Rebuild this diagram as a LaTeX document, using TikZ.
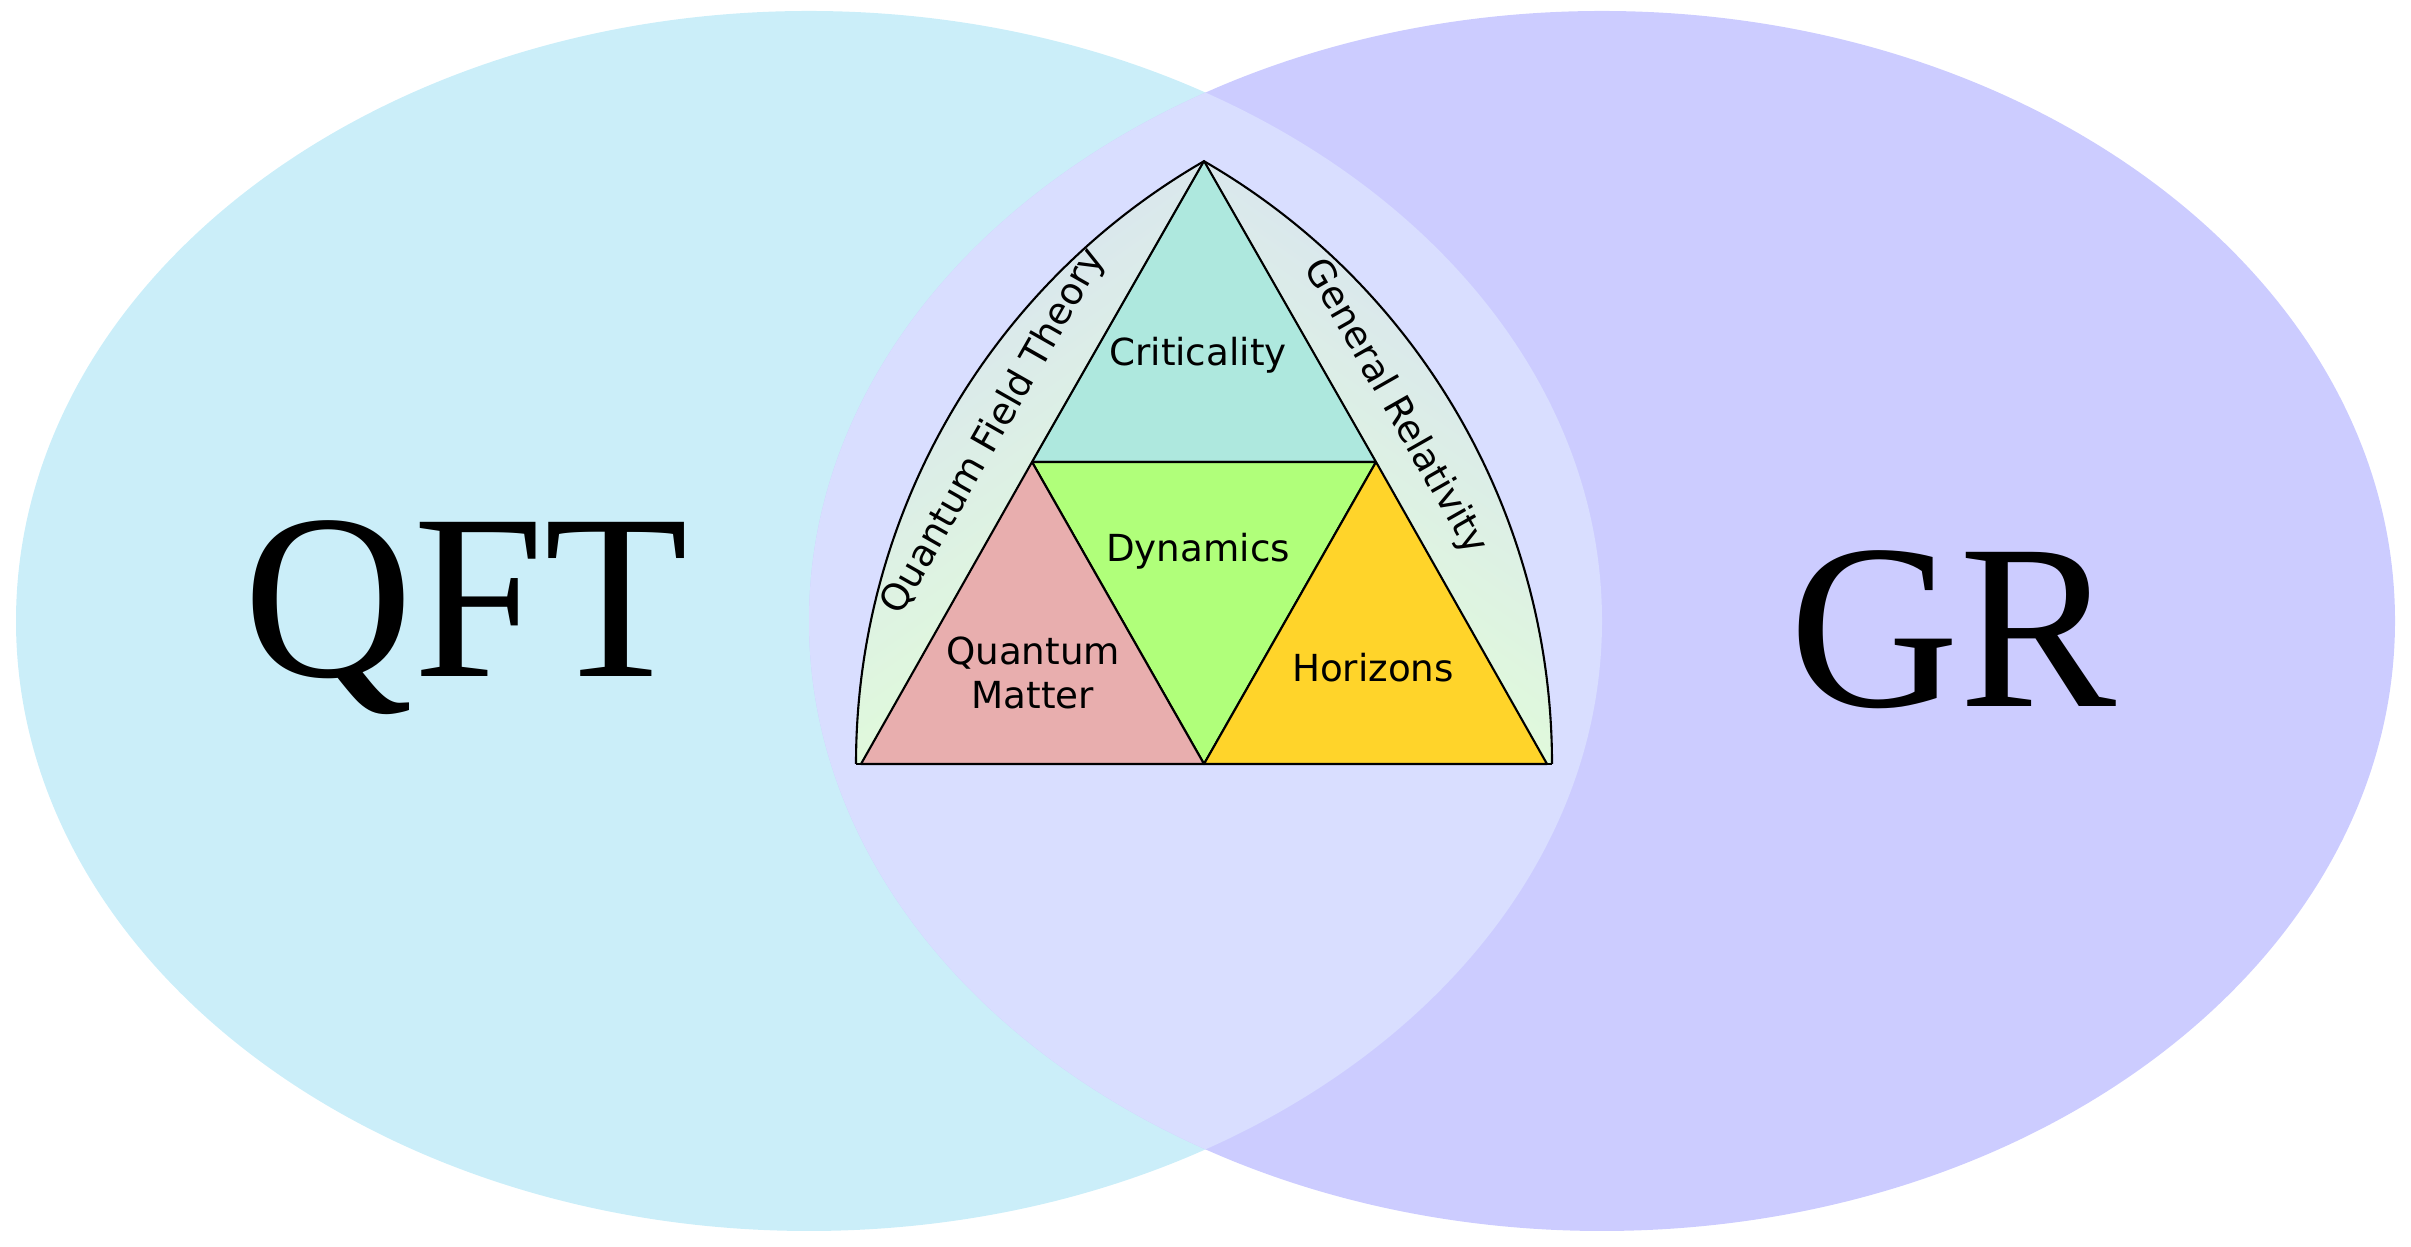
\documentclass[tikz,border=0pt]{standalone}
\usepackage{fontspec}
\setmainfont{Liberation Serif}
\newfontfamily\labelfont{DejaVu Sans}
\definecolor{qftcyan}{RGB}{203,238,249}
\definecolor{grlilac}{RGB}{204,204,255}
\definecolor{bothlilac}{RGB}{217,222,255}
\definecolor{bandtop}{RGB}{216,226,242}
\definecolor{bandbot}{RGB}{226,255,214}
\definecolor{critfill}{RGB}{174,232,222}
\definecolor{dynfill}{RGB}{176,255,122}
\definecolor{matfill}{RGB}{232,174,174}
\definecolor{horfill}{RGB}{255,212,42}

\begin{document}
\begin{tikzpicture}[x=0.1mm,y=0.1mm,line width=0.6pt]
  \tikzstyle{big}=[font=\fontsize{67}{67}\selectfont,anchor=base,inner sep=0pt]
  \tikzstyle{topic}=[font=\labelfont\fontsize{10.6}{12.6}\selectfont,align=center,inner sep=0pt]
  \tikzstyle{tri}=[draw=black,line join=round]
  \tikzstyle{band}=[top color=bandtop,bottom color=bandbot]

  \useasboundingbox (0,0) rectangle (2411,1247);

  % the two fields
  \coordinate (cl) at (809,626);
  \coordinate (cr) at (1602,626);
  \fill[qftcyan] (cl) ellipse [x radius=793,y radius=610];
  \fill[grlilac] (cr) ellipse [x radius=793,y radius=610];
  \begin{scope}
    \clip (cl) ellipse [x radius=793,y radius=610];
    \fill[bothlilac] (cr) ellipse [x radius=793,y radius=610];
  \end{scope}

  \node[big] (qft) at (466,570) {QFT};
  \node[big] (gr)  at (1953,540) {GR};

  % arch and triangles
  \coordinate (al)  at (856,483);
  \coordinate (ar)  at (1552,483);
  \coordinate (top) at (1204,1086);
  \coordinate (ml)  at (1032,785);
  \coordinate (mr)  at (1376,785);
  \coordinate (bl)  at (861,483);
  \coordinate (bm)  at (1204,483);
  \coordinate (br)  at (1547,483);

  \shade[band,shading angle=35]
    (al) arc[start angle=180,end angle=120,radius=696] -- (bl) -- cycle;
  \shade[band,shading angle=-35]
    (ar) arc[start angle=0,end angle=60,radius=696] -- (br) -- cycle;
  \draw (al) arc[start angle=180,end angle=120,radius=696];
  \draw (ar) arc[start angle=0,end angle=60,radius=696];

  \draw[tri,fill=critfill] (top) -- (ml) -- (mr) -- cycle;
  \draw[tri,fill=dynfill]  (ml) -- (mr) -- (bm) -- cycle;
  \draw[tri,fill=matfill]  (ml) -- (bm) -- (bl) -- cycle;
  \draw[tri,fill=horfill]  (mr) -- (br) -- (bm) -- cycle;
  \draw (al) -- (ar);

  \node[topic] (crit) at (1198,892) {Criticality};
  \node[topic] (dyn)  at (1198,696) {Dynamics};
  \node[topic] (mat)  at (1033,574) {Quantum\\Matter};
  \node[topic] (hor)  at (1373,579) {Horizons};
  \node[topic,rotate=60.4]  (qftband) at (994,815) {Quantum Field Theory};
  \node[topic,rotate=-60.4] (grband)  at (1395,840) {General Relativity};
\end{tikzpicture}
\end{document}
